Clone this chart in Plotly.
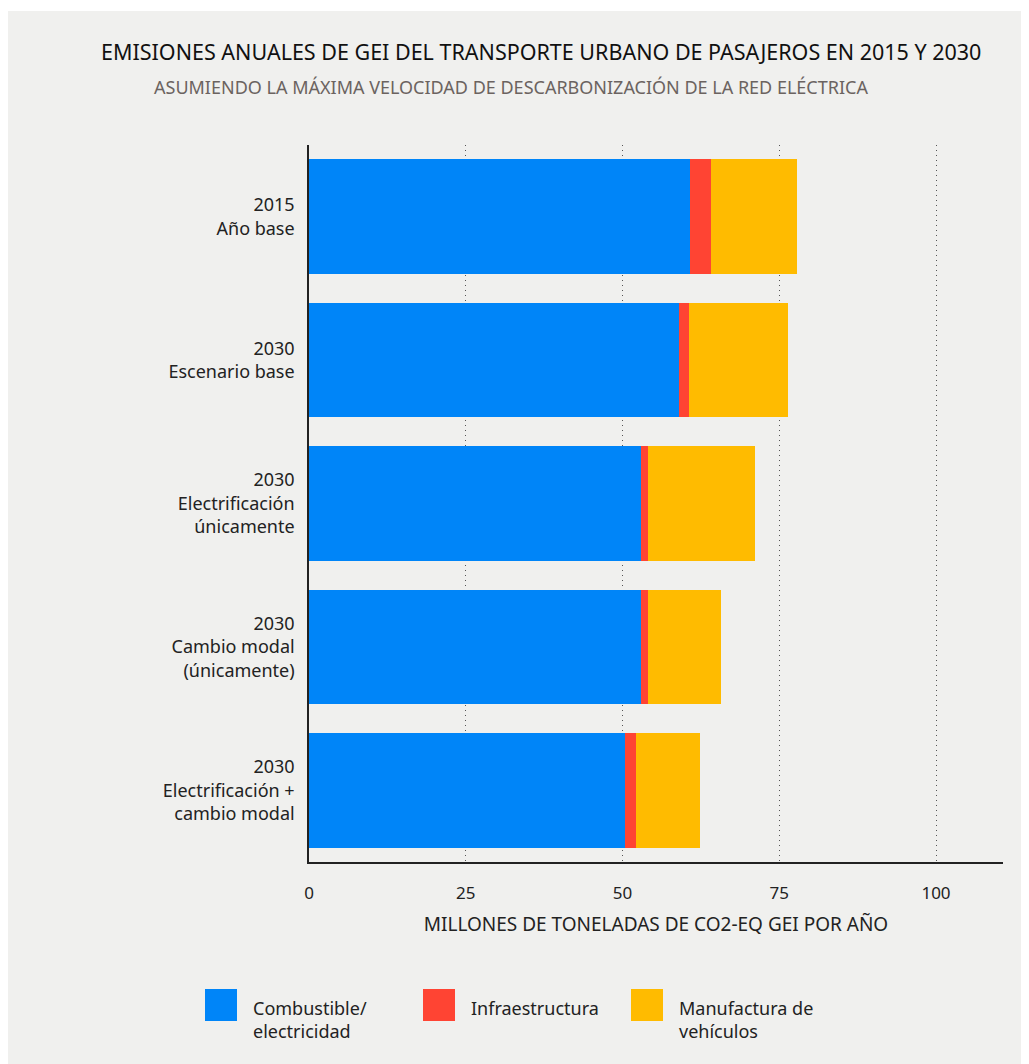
import plotly.graph_objects as go

categories = ["2015<br>Año base", "2030<br>Escenario base", "2030<br>Electrificación<br>únicamente",
              "2030<br>Cambio modal<br>(únicamente)", "2030<br>Electrificación +<br>cambio modal"]
combustible = [60.8, 59.0, 53.0, 53.0, 50.4]
infraestructura = [3.3, 1.6, 1.0, 1.0, 1.7]
manufactura = [13.8, 15.8, 17.1, 11.7, 10.3]
series_names = ["Combustible/<br>electricidad", "Infraestructura", "Manufactura de<br>vehículos"]
colors = ["#0085f8", "#ff4433", "#ffbb00"]
x_ticks = [0, 25, 50, 75, 100]

# figure is placed at page offset (8, 8) by the default body margin
OFF = 8
W, H = 1021, 1056
L, R, T, B = 301, 26, 137, 202
PW, PH = W - L - R, H - T - B
FONT = "Noto Sans, Open Sans, sans-serif"

fig = go.Figure()
for name, vals, c in zip(series_names, [combustible, infraestructura, manufactura], colors):
    fig.add_trace(go.Bar(y=categories, x=vals, orientation="h", name=name,
                         marker=dict(color=c, line=dict(width=0)), showlegend=False))

def px_x(p):  # page pixel -> paper coordinate
    return (p - OFF - L) / PW

def px_y(p):
    return (H - B - (p - OFF)) / PH

shapes = [
    dict(type="rect", xref="paper", yref="paper", x0=px_x(OFF), x1=px_x(OFF + W), y0=px_y(11), y1=px_y(OFF),
         fillcolor="white", line=dict(width=0), layer="below"),
]
annotations = [
    dict(text="EMISIONES ANUALES DE GEI DEL TRANSPORTE URBANO DE PASAJEROS EN 2015 Y 2030",
         xref="paper", yref="paper", x=px_x(541), y=px_y(51), xanchor="center", yanchor="middle",
         showarrow=False, font=dict(size=21.5, color="#111111", family=FONT)),
    dict(text="ASUMIENDO LA MÁXIMA VELOCIDAD DE DESCARBONIZACIÓN DE LA RED ELÉCTRICA",
         xref="paper", yref="paper", x=px_x(511), y=px_y(87), xanchor="center", yanchor="middle",
         showarrow=False, font=dict(size=18, color="#6b6360", family=FONT)),
]
legend_pos = [(205, 251), (423, 469), (631, 677)]
for (bx, tx), name, c in zip(legend_pos, series_names, colors):
    shapes.append(dict(type="rect", xref="paper", yref="paper", x0=px_x(bx), x1=px_x(bx + 32),
                       y0=px_y(1021), y1=px_y(989), fillcolor=c, line=dict(width=0)))
    annotations.append(dict(text=name, xref="paper", yref="paper", x=px_x(tx), y=px_y(994),
                            xanchor="left", yanchor="top", align="left", showarrow=False,
                            font=dict(size=18, color="#222222", family=FONT)))

fig.update_layout(
    barmode="stack", bargap=0.2,
    width=W, height=H,
    margin=dict(l=L, r=R, t=T, b=B, pad=0),
    paper_bgcolor="#f0f0ee", plot_bgcolor="#f0f0ee",
    font=dict(family=FONT, color="#222222", size=16),
    shapes=shapes, annotations=annotations,
    xaxis=dict(range=[0, PW / 6.27], tickvals=x_ticks, ticktext=[str(v) for v in x_ticks],
               showgrid=True, gridcolor="#555555", griddash="1px,4px", gridwidth=1,
               zeroline=False, showline=True, linecolor="#222222", linewidth=1.5,
               ticks="", ticklabelstandoff=15, tickfont=dict(size=17, color="#222222"),
               title=dict(text="MILLONES DE TONELADAS DE CO2-EQ GEI POR AÑO",
                          font=dict(size=19, color="#222222"), standoff=15)),
    yaxis=dict(autorange="reversed", showgrid=False, showline=True, linecolor="#222222",
               linewidth=1.5, ticks="", ticklabelstandoff=9,
               tickfont=dict(size=18, color="#222222")),
)

fig.write_html("out.html")
